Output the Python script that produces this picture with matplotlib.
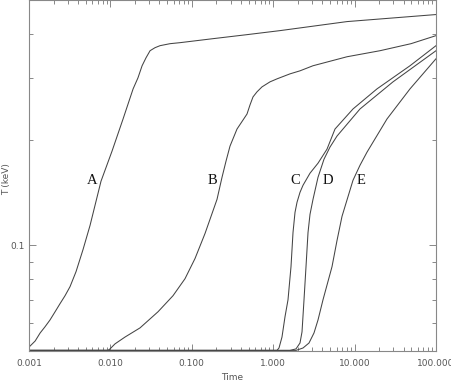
import matplotlib
matplotlib.use("Agg")
import matplotlib.pyplot as plt
from matplotlib.ticker import FixedLocator, NullFormatter

# temperature histories for the five runs (time, T in keV)
a_time = [0.001, 0.00119, 0.00137, 0.00157, 0.00181, 0.00209, 0.00240, 0.00277, 0.00319, 0.00378,
          0.00461, 0.00562, 0.00766, 0.01046, 0.0143, 0.0190, 0.0218, 0.0245, 0.0274, 0.0307,
          0.0353, 0.0407, 0.0540, 0.0716, 0.182, 0.476, 1.21, 8.07, 100]
a_temp = [0.0513, 0.0534, 0.0563, 0.0586, 0.0613, 0.0647, 0.0682, 0.0719, 0.0763, 0.0842,
          0.0974, 0.1141, 0.1525, 0.1858, 0.2296, 0.2798, 0.3008, 0.3257, 0.3433, 0.3595,
          0.3667, 0.3716, 0.3765, 0.3790, 0.3891, 0.3995, 0.4102, 0.4353, 0.4559]

b_time = [0.001, 0.00935, 0.00989, 0.01139, 0.01511, 0.02310, 0.03844, 0.05875, 0.0825, 0.1095,
          0.1453, 0.2040, 0.2350, 0.2631, 0.2946, 0.3591, 0.4256, 0.4766, 0.5188, 0.5647, 0.6324,
          0.7286, 0.9135, 1.113, 1.608, 2.134, 3.083, 8.066, 20.51, 49.31, 100]
b_temp = [0.0502, 0.0502, 0.0507, 0.0524, 0.0548, 0.0582, 0.0647, 0.0719, 0.0804, 0.0918,
          0.1082, 0.1354, 0.1565, 0.1740, 0.1921, 0.2149, 0.2280, 0.2372, 0.2518, 0.2654, 0.2744,
          0.2835, 0.2930, 0.2988, 0.3088, 0.3150, 0.3257, 0.3455, 0.3595, 0.3765, 0.3969]

c_time = [0.001, 1.113, 1.178, 1.282, 1.396, 1.520, 1.654, 1.751, 1.853, 1.961, 2.134, 2.323,
          2.832, 3.551, 4.580, 5.130, 5.743, 9.557, 18.85, 47.94, 100]
c_temp = [0.0502, 0.0502, 0.0510, 0.0548, 0.0626, 0.0700, 0.0870, 0.1089, 0.1243, 0.1328, 0.1418, 0.1485,
          0.1608, 0.1717, 0.1883, 0.2012, 0.2149, 0.2452, 0.2798, 0.3257, 0.3716]

d_time = [0.001, 1.608, 1.906, 2.134, 2.259, 2.390, 2.529, 2.677, 2.832, 3.083, 3.551, 4.208,
          4.986, 6.078, 11.65, 29.63, 100]
d_temp = [0.0502, 0.0502, 0.0507, 0.0527, 0.0567, 0.0700, 0.0870, 0.1089, 0.1227, 0.1354, 0.1565, 0.1763,
          0.1909, 0.2052, 0.2452, 0.2930, 0.3595]

e_time = [0.001, 1.906, 2.323, 2.753, 3.171, 3.551, 4.090, 5.277, 6.078, 7.003, 9.557, 11.65,
          14.20, 25.00, 47.94, 100]
e_temp = [0.0502, 0.0502, 0.0510, 0.0527, 0.0563, 0.0613, 0.0700, 0.0870, 0.1033, 0.1211, 0.1535, 0.1694,
          0.1846, 0.2296, 0.2798, 0.3410]

labels = ["A", "B", "C", "D", "E"]
label_time = [0.00594, 0.177, 1.853, 4.71, 11.99]
label_temp = 0.1535

x_ticks = [0.001, 0.01, 0.1, 1, 10, 100]
x_ticklabels = ["0.001", "0.010", "0.100", "1.000", "10.000", "100.000"]
y_minor = [0.06, 0.07, 0.08, 0.09, 0.2, 0.3, 0.4]


def main():
    fig = plt.figure(figsize=(4.52, 3.80), dpi=100)
    ax = fig.add_axes([0.0642, 0.0763, 0.9004, 0.9224])

    line_color = "#444444"
    for t, temp in [(a_time, a_temp), (b_time, b_temp), (c_time, c_temp),
                    (d_time, d_temp), (e_time, e_temp)]:
        ax.plot(t, temp, color=line_color, linewidth=0.75)

    for lab, t in zip(labels, label_time):
        ax.text(t, label_temp, lab, ha="center", va="center", fontsize=10.5,
                family="Liberation Serif", color="#111111")

    ax.set_xscale("log")
    ax.set_yscale("log")
    ax.set_xlim(0.001, 100)
    ax.set_ylim(0.05, 0.5)

    ax.xaxis.set_major_locator(FixedLocator(x_ticks))
    ax.set_xticklabels(x_ticklabels)
    ax.yaxis.set_major_locator(FixedLocator([0.1]))
    ax.set_yticklabels(["0.1"])
    ax.yaxis.set_minor_locator(FixedLocator(y_minor))
    ax.yaxis.set_minor_formatter(NullFormatter())
    ax.xaxis.set_minor_formatter(NullFormatter())

    tick_color = "#888888"
    ax.tick_params(which="both", direction="in", top=True, right=True,
                   color=tick_color, width=0.7, labelsize=6.5, labelcolor="#555555")
    ax.tick_params(which="major", length=5)
    ax.tick_params(axis="x", which="major", pad=6)
    ax.tick_params(axis="y", which="major", pad=3)
    ax.tick_params(which="minor", length=3)
    for side in ax.spines.values():
        side.set_color(tick_color)
        side.set_linewidth(0.8)

    ax.set_xlabel("Time", fontsize=6.5, color="#555555", labelpad=3)
    ax.set_ylabel("T (keV)", fontsize=6.5, color="#555555")
    ax.yaxis.set_label_coords(-0.043, 0.49)

    fig.savefig("out.png", dpi=100)


if __name__ == "__main__":
    main()
